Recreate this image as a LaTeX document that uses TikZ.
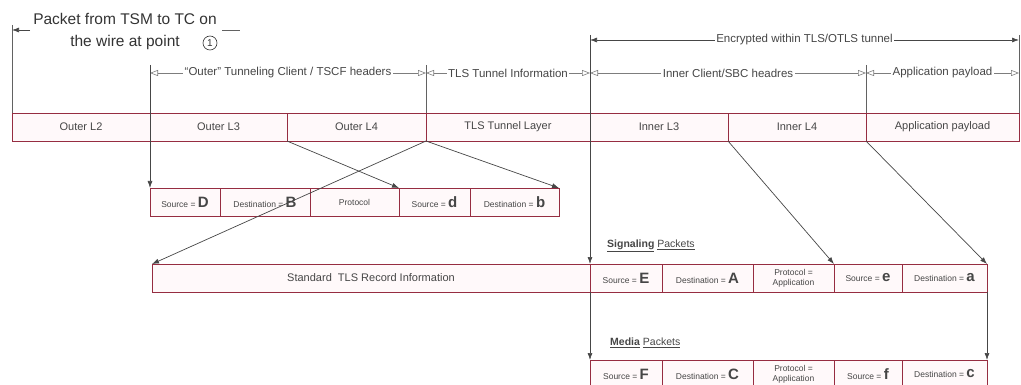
\documentclass[tikz,border=0pt]{standalone}
\usepackage{fontspec}
\setmainfont{Liberation Sans}
\usetikzlibrary{arrows.meta,shadows}
\definecolor{boxred}{RGB}{150,45,65}
\definecolor{boxfill}{RGB}{255,249,250}
\definecolor{txt}{RGB}{70,70,70}
\definecolor{dimc}{RGB}{125,125,125}
\newcommand\Ltr[1]{{\fontsize{15}{15}\selectfont\bfseries #1}}
\begin{document}
\begin{tikzpicture}[x=1pt,y=-1pt,
  cell/.style={draw=boxred, fill=boxfill, line width=0.7pt, inner sep=0pt, outer sep=0pt,
    minimum height=28pt, text=txt, font=\fontsize{11}{12}\selectfont,
    drop shadow={shadow xshift=0.8pt, shadow yshift=-0.8pt, fill=black!35, opacity=0.6}},
  sub/.style={cell, font=\fontsize{8.5}{10}\selectfont, align=center},
  ext/.style={draw=txt!85, line width=0.6pt},
  conn/.style={draw=txt, line width=0.7pt, -{Latex[length=7pt,width=5pt]}},
  dimline/.style={draw=dimc, line width=0.6pt, {Triangle[open,length=8pt,width=6pt]}-{Triangle[open,length=8pt,width=6pt]}},
  encline/.style={draw=txt, line width=0.7pt, {Latex[length=7pt,width=5pt]}-{Latex[length=7pt,width=5pt]}},
  dimlabel/.style={fill=white, inner sep=1.5pt, font=\fontsize{11.5}{12}\selectfont, text=txt},
  pktlabel/.style={anchor=west, inner sep=0pt, text=txt, font=\fontsize{10.5}{12}\selectfont}
]
\clip (0,0) rectangle (1021,385);
\useasboundingbox (0,0) rectangle (1021,385);

% coordinates for extension lines and dimension lines
\coordinate (t12) at (12,25);
\coordinate (t150) at (150,65);
\coordinate (t426) at (426,65);
\coordinate (t590) at (590,35);
\coordinate (t866) at (866,65);
\coordinate (t1019) at (1019,35);
\coordinate (d150) at (150,73);
\coordinate (d426) at (426,73);
\coordinate (d590) at (590,73);
\coordinate (d866) at (866,73);
\coordinate (d1019) at (1019,73);
\coordinate (e590) at (590,40);
\coordinate (e1019) at (1019,40);
\coordinate (hA) at (30,30);
\coordinate (hB) at (12,30);
\coordinate (h1) at (222,30);
\coordinate (h2) at (240,30);

% heading
\node[font=\fontsize{15.5}{22}\selectfont, text=black!80, align=center] (head) at (125,31)
  {Packet from TSM to TC on\\the wire at point};
\node[circle, draw=black!80, line width=0.6pt, inner sep=0pt, minimum size=14pt, text=black!80,
  font=\fontsize{10}{10}\selectfont] (pt) at (210,43) {1};
\draw[conn] (hA) -- (hB);
\draw[ext] (h1) -- (h2);

% extension lines above top row
\draw[ext] (t12) -- (12,113);
\draw[ext] (t426) -- (426,113);
\draw[ext] (t866) -- (866,113);
\draw[ext] (t1019) -- (1019,113);

% top row
\node[cell, minimum width=138pt] (l2) at (81,127) {Outer L2};
\node[cell, minimum width=137pt] (l3) at (218.5,127) {Outer L3};
\node[cell, minimum width=139pt] (l4) at (356.5,127) {Outer L4};
\node[cell, minimum width=164pt] (tls) at (508,127) {TLS Tunnel Layer};
\node[cell, minimum width=138pt] (il3) at (659,127) {Inner L3};
\node[cell, minimum width=138pt] (il4) at (797,127) {Inner L4};
\node[cell, minimum width=153pt] (app) at (942.5,127) {Application payload};

% second row (outer L3 / L4)
\node[sub, minimum width=70pt] (srcD) at (185,202) {Source = \Ltr{D}};
\node[sub, minimum width=90pt] (dstB) at (265,202) {Destination = \Ltr{B}};
\node[sub, minimum width=89pt] (prot) at (354.5,202) {Protocol};
\node[sub, minimum width=71pt] (srcd) at (434.5,202) {Source = \Ltr{d}};
\node[sub, minimum width=89pt] (dstb) at (514.5,202) {Destination = \Ltr{b}};

% signaling row
\node[cell, minimum width=438pt] (rec) at (371,278) {Standard\ \ TLS Record Information};
\node[sub, minimum width=72pt] (sE) at (626,278) {Source = \Ltr{E}};
\node[sub, minimum width=91pt] (sA) at (707.5,278) {Destination = \Ltr{A}};
\node[sub, minimum width=81pt] (sP) at (793.5,278) {Protocol =\\Application};
\node[sub, minimum width=68pt] (se) at (868,278) {Source = \Ltr{e}};
\node[sub, minimum width=85pt] (sa) at (944.5,278) {Destination = \Ltr{a}};

% media row
\node[sub, minimum width=72pt] (mF) at (626,374) {Source = \Ltr{F}};
\node[sub, minimum width=91pt] (mC) at (707.5,374) {Destination = \Ltr{C}};
\node[sub, minimum width=81pt] (mP) at (793.5,374) {Protocol =\\Application};
\node[sub, minimum width=68pt] (mf) at (868,374) {Source = \Ltr{f}};
\node[sub, minimum width=85pt] (mc) at (944.5,374) {Destination = \Ltr{c}};

% packet labels
\node[pktlabel] (siglab) at (607,246) {\underline{\textbf{Signaling}} \underline{Packets}};
\node[pktlabel] (medlab) at (610,343) {\underline{\textbf{Media}} \underline{Packets}};

% dimension lines
\draw[dimline] (d150) -- node[dimlabel] {“Outer” Tunneling Client / TSCF headers} (d426);
\draw[dimline] (d426) -- node[dimlabel] {TLS Tunnel Information} (d590);
\draw[dimline] (d590) -- node[dimlabel] {Inner Client/SBC headres} (d866);
\draw[dimline] (d866) -- node[dimlabel] {Application payload} (d1019);
\draw[encline] (e590) -- node[dimlabel] {Encrypted within TLS/OTLS tunnel} (e1019);

% vertical connectors
\draw[conn] (t150) -- (srcD.north west);
\draw[conn] (t590) -- (sE.north west);
\draw[conn] (sE.south west) -- (mF.north west);
\draw[conn] (sa.south east) -- (mc.north east);

% diagonal connectors
\draw[conn] (l4.south west) -- (srcd.north west);
\draw[conn] (tls.south west) -- (dstb.north east);
\draw[conn] (tls.south west) -- (rec.north west);
\draw[conn] (il4.south west) -- (sP.north east);
\draw[conn] (app.south west) -- (sa.north east);
\end{tikzpicture}
\end{document}
